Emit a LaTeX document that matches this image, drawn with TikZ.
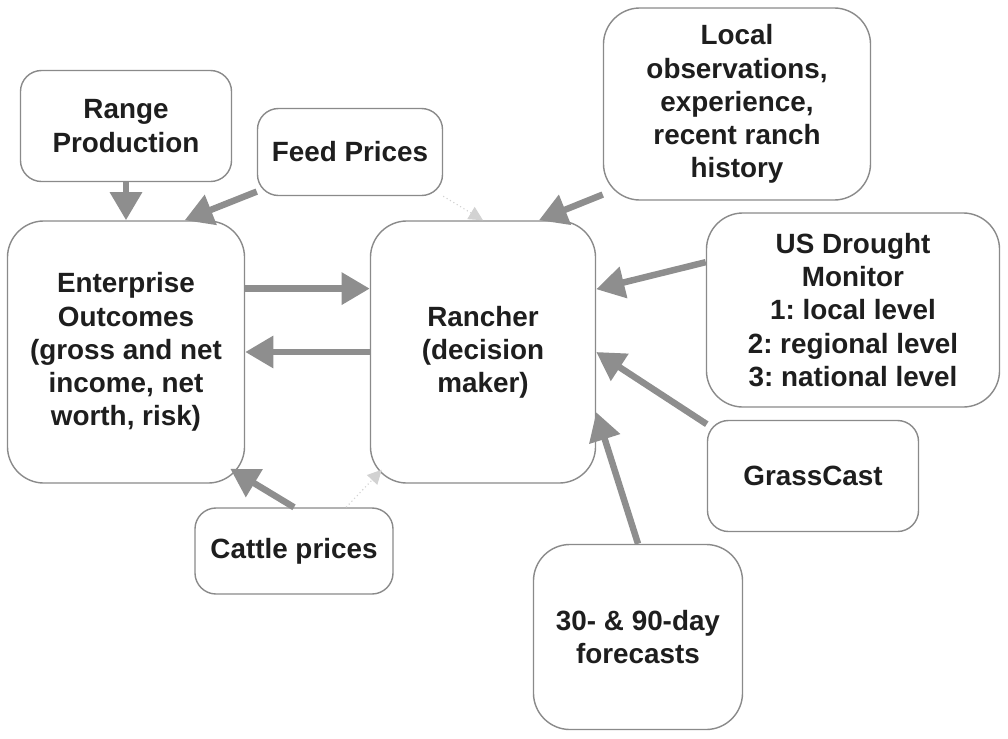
\documentclass[tikz,border=0pt]{standalone}
\usepackage{fontspec}
\setmainfont{Liberation Sans}
\usetikzlibrary{arrows.meta,calc}
\frenchspacing
\definecolor{edgegrey}{HTML}{8A8A8A}
\definecolor{arrowgrey}{HTML}{8E8E8E}
\definecolor{faintgrey}{HTML}{D2D2D2}
\definecolor{inkgrey}{HTML}{1E1E1E}

\begin{document}
\begin{tikzpicture}[
    x=0.025cm, y=-0.025cm,
    box/.style={
        draw=edgegrey, line width=1pt, fill=white,
        rounded corners=#1, inner sep=0pt,
        font=\fontsize{19.8}{23.6}\selectfont\bfseries, text=inkgrey, align=center,
    },
    box/.default=15pt,
    arr/.style={-{Triangle[length=20pt, width=22pt]}, line width=4.6pt, color=arrowgrey},
    hint/.style={-{Triangle[length=10pt, width=10pt]}, dotted, line width=0.8pt, color=faintgrey},
]
\useasboundingbox (0,0) rectangle (1008,738);

% ── Inputs on the left ──
\node[box, minimum width=5.275cm, minimum height=2.775cm] (range) at (126,126) {Range\\Production};
\node[box, minimum width=4.625cm, minimum height=2.175cm] (feed) at (350,152) {Feed Prices};
\node[box, minimum width=4.95cm, minimum height=2.15cm] (cattle) at (294,551) {Cattle prices};

% ── Central blocks ──
\node[box=26pt, minimum width=5.925cm, minimum height=6.55cm] (outcome) at (126,352)
    {Enterprise\\Outcomes\\(gross and net\\income, net\\worth, risk)};
\node[box=26pt, minimum width=5.625cm, minimum height=6.55cm] (rancher) at (483,352)
    {Rancher\\(decision\\maker)};

% ── Information sources on the right ──
\node[box=26pt, minimum width=6.675cm, minimum height=4.8cm] (local) at (737,104)
    {Local\\observations,\\experience,\\recent ranch\\history};
\node[box=26pt, minimum width=7.325cm, minimum height=4.85cm] (drought) at (853,310)
    {US Drought\\Monitor\\1: local level\\2: regional level\\3: national level};
\node[box, minimum width=5.275cm, minimum height=2.775cm] (grass) at (813,476) {GrassCast};
\node[box=26pt, minimum width=5.225cm, minimum height=4.625cm] (fcst) at (638,637)
    {30- \& 90-day\\forecasts};

% ── Arrows ──
\draw[arr] (range.south) -- (outcome.north);
\draw[arr] (feed.203) -- (outcome.66);
\draw[arr] (outcome.28.6) -- (outcome.28.6 -| rancher.west);
\draw[arr] (rancher.west) -- (rancher.west -| outcome.east);
\draw[arr] (cattle.north) -- ($(outcome.south east)+(-15,-15)$);
\draw[arr] (local.214) -- (rancher.67);
\draw[arr] (drought.162) -- (rancher.29.6);
\draw[arr] (grass.154) -- (rancher.east);
\draw[arr] (fcst.north) -- (rancher.-28.5);

% ── Weak links ──
\draw[hint] (feed.south east) -- (rancher.north);
\draw[hint] (cattle.40) -- ($(rancher.south west)+(12,-14)$);

\end{tikzpicture}
\end{document}
